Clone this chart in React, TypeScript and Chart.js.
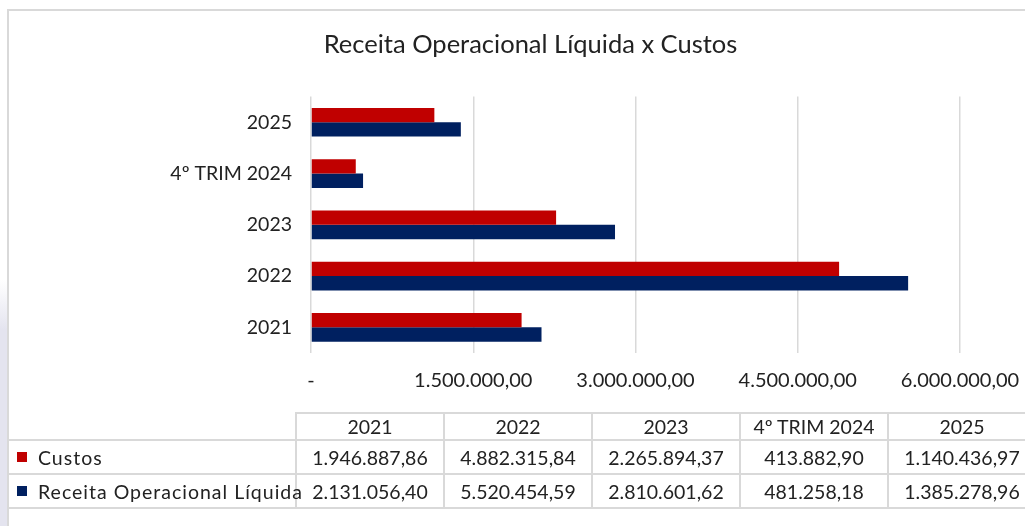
import React, { useEffect, useRef } from "react";
import { Chart, registerables } from "chart.js";

Chart.register(...registerables);

const categories = ["2021", "2022", "2023", "4º TRIM 2024", "2025"];
const custos = [1946887.86, 4882315.84, 2265894.37, 413882.9, 1140436.97];
const receita = [2131056.4, 5520454.59, 2810601.62, 481258.18, 1385278.96];
const seriesNames = ["Custos", "Receita Operacional Líquida"];
const seriesColors = ["#C00000", "#002060"];
const xTicks = [0, 1500000, 3000000, 4500000, 6000000];

const FONT = "Lato, 'Noto Sans', sans-serif";

function fmt(v: number): string {
  if (v === 0) return "-";
  const fixed = v.toFixed(2);
  const [intPart, dec] = fixed.split(".");
  const withDots = intPart.replace(/\B(?=(\d{3})+(?!\d))/g, ".");
  return withDots + "," + dec;
}

export default function App() {
  const ref = useRef<HTMLCanvasElement | null>(null);

  useEffect(() => {
    if (!ref.current) return;
    const chart = new Chart(ref.current, {
      type: "bar",
      data: {
        labels: categories,
        datasets: [
          {
            label: seriesNames[0],
            data: custos,
            backgroundColor: seriesColors[0],
            barPercentage: 1,
            categoryPercentage: 0.56,
          },
          {
            label: seriesNames[1],
            data: receita,
            backgroundColor: seriesColors[1],
            barPercentage: 1,
            categoryPercentage: 0.56,
          },
        ],
      },
      options: {
        indexAxis: "y",
        responsive: false,
        animation: false,
        layout: { padding: { left: 101, right: 65, top: 0, bottom: 0 } },
        plugins: {
          legend: { display: false },
          tooltip: { enabled: false },
          title: {
            display: true,
            text: "Receita Operacional Líquida x Custos",
            color: "#222",
            font: { family: FONT, size: 25.5, weight: "normal" },
            padding: { top: 29, bottom: 37 },
          },
        },
        scales: {
          x: {
            min: 0,
            max: 6000000,
            afterBuildTicks: (axis: any) => {
              axis.ticks = xTicks.map((v) => ({ value: v }));
            },
            afterFit: (axis: any) => {
              axis.height = 173;
              axis.paddingLeft = 0;
              axis.paddingRight = 0;
            },
            grid: {
              color: "#d9d9d9",
              lineWidth: 1.5,
              drawTicks: false,
            },
            border: { display: false },
            ticks: {
              padding: 16,
              color: "#222",
              font: { family: FONT, size: 20 },
              callback: (v: any) => fmt(Number(v)),
            },
          },
          y: {
            reverse: true,
            afterFit: (axis: any) => {
              axis.width = 210;
              axis.paddingTop = 0;
              axis.paddingBottom = 0;
            },
            grid: { display: false, drawTicks: false },
            border: { display: false },
            ticks: {
              padding: 19,
              color: "#222",
              font: { family: FONT, size: 19.5 },
            },
          },
        },
      },
    });
    return () => chart.destroy();
  }, []);

  const colLeft = 295;
  const colW = 148;
  const headerTop = 412;
  const rowTops = [439, 473];
  const rowH = 34;
  const line = "2px solid #d9d9d9";
  const rows = [custos, receita];

  const cellBase: React.CSSProperties = {
    position: "absolute",
    boxSizing: "border-box",
    display: "flex",
    alignItems: "center",
    justifyContent: "center",
    fontFamily: FONT,
    fontSize: 19.5,
    color: "#222",
    whiteSpace: "nowrap",
  };

  return (
    <div
      style={{
        position: "fixed",
        left: 0,
        top: 0,
        width: 1025,
        height: 526,
        background: "#fff",
        overflow: "hidden",
      }}
    >
      <div
        style={{
          position: "absolute",
          left: 0,
          top: 0,
          width: 7,
          height: 526,
          background:
            "linear-gradient(to bottom, rgba(228,228,239,0) 280px, #e4e4ef 330px, #e4e4ef 526px)",
        }}
      />
      <div
        style={{
          position: "absolute",
          left: 7,
          top: 9,
          width: 1100,
          height: 600,
          borderTop: line,
          borderLeft: line,
        }}
      />
      <canvas
        ref={ref}
        width={1025}
        height={526}
        style={{ position: "absolute", left: 0, top: 0 }}
      />
      {categories.map((c, i) => (
        <div
          key={"h" + i}
          style={{
            ...cellBase,
            left: colLeft + i * colW,
            top: headerTop,
            width: colW + 2,
            height: rowTops[0] - headerTop + 2,
            border: line,
          }}
        >
          {c}
        </div>
      ))}
      {rows.map((r, ri) => (
        <React.Fragment key={"r" + ri}>
          <div
            style={{
              ...cellBase,
              left: 7,
              top: rowTops[ri],
              width: colLeft - 7 + 2,
              height: rowH + 2,
              borderTop: line,
              borderBottom: line,
              justifyContent: "flex-start",
              overflow: "visible",
              zIndex: 2,
            }}
          >
            <span
              style={{
                display: "inline-block",
                flexShrink: 0,
                width: 10,
                height: 10,
                background: seriesColors[ri],
                marginLeft: 10,
                marginRight: 11,
              }}
            />
            <span style={{ letterSpacing: 1.0, flexShrink: 0 }}>
              {seriesNames[ri]}
            </span>
          </div>
          {r.map((v, ci) => (
            <div
              key={"c" + ri + "_" + ci}
              style={{
                ...cellBase,
                left: colLeft + ci * colW,
                top: rowTops[ri],
                width: colW + 2,
                height: rowH + 2,
                border: line,
              }}
            >
              {fmt(v)}
            </div>
          ))}
        </React.Fragment>
      ))}
    </div>
  );
}
